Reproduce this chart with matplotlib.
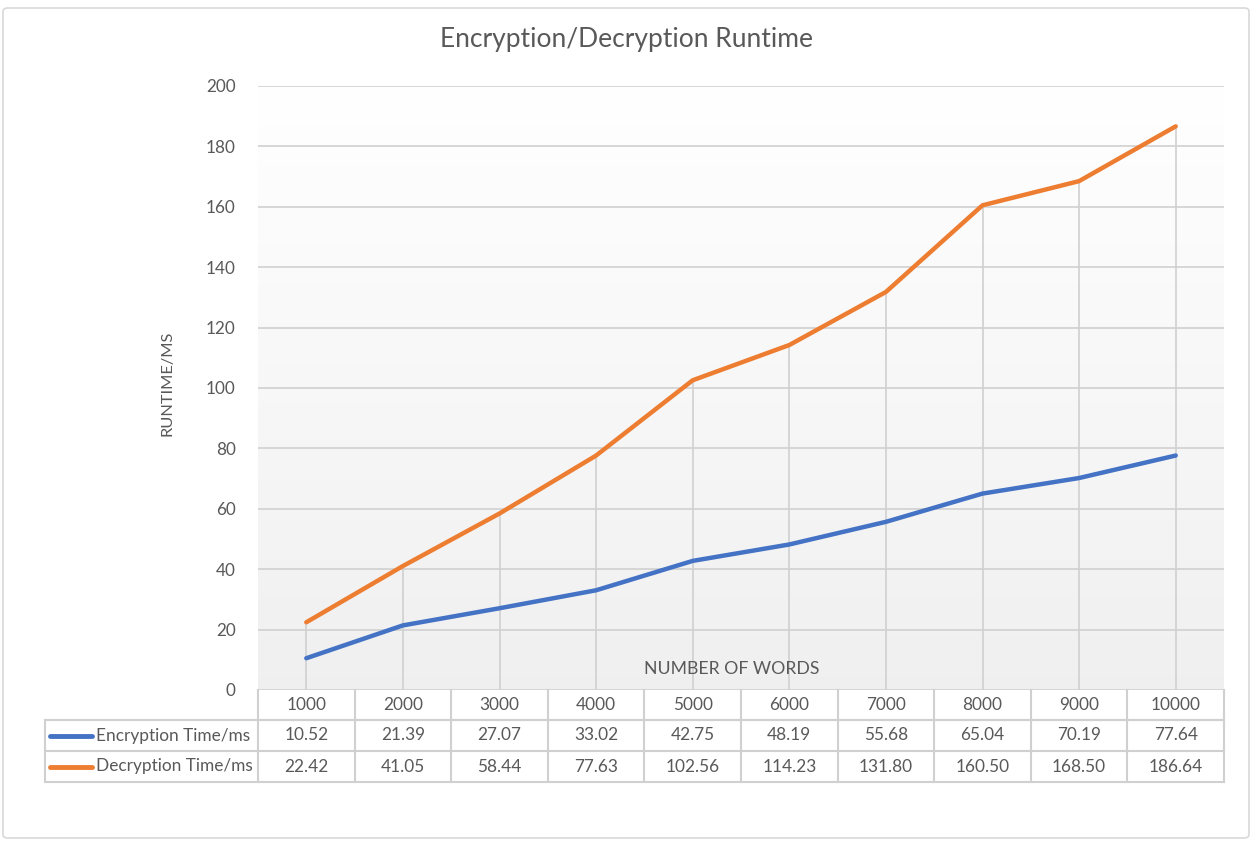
import numpy as np
import matplotlib
matplotlib.use("Agg")
import matplotlib.pyplot as plt
from matplotlib.patches import FancyBboxPatch
from matplotlib.lines import Line2D

categories = ["1000", "2000", "3000", "4000", "5000", "6000", "7000", "8000", "9000", "10000"]
series_names = ["Encryption Time/ms", "Decryption Time/ms"]
encryption = [10.52, 21.39, 27.07, 33.02, 42.75, 48.19, 55.68, 65.04, 70.19, 77.64]
decryption = [22.42, 41.05, 58.44, 77.63, 102.56, 114.23, 131.80, 160.50, 168.50, 186.64]
colors = ["#4472C4", "#ED7D31"]
yticks = [0, 20, 40, 60, 80, 100, 120, 140, 160, 180, 200]

plt.rcParams['font.family'] = ['Lato', 'DejaVu Sans']
TXT = "#595959"
GRID = "#D0D0D0"

W, H = 1252, 843
fig = plt.figure(figsize=(W / 100, H / 100), dpi=100)

def fx(px):
    return px / W

def fy(py):
    return 1 - py / H

# outer border
fig.patches.append(FancyBboxPatch((fx(3), fy(838)), fx(1246), 830 / H,
                                  boxstyle="round,pad=0,rounding_size=0.004",
                                  transform=fig.transFigure, fill=False,
                                  edgecolor="#D9D9D9", linewidth=1.2))

L, R, T, B = 258, 1224, 86, 690
ax = fig.add_axes([fx(L), fy(B), fx(R - L), (B - T) / H])
n = len(categories)
x = np.arange(n)
ax.set_xlim(-0.5, n - 0.5)
ax.set_ylim(0, 200)

# gradient background
grad = np.linspace(1.0, 0.0, 256).reshape(-1, 1)
top = np.array([1.0, 1.0, 1.0])
bot = np.array([0.94, 0.94, 0.94])
img = grad[..., None] * top + (1 - grad[..., None]) * bot
ax.imshow(img, extent=[-0.5, n - 0.5, 0, 200], aspect="auto", zorder=0, origin="upper")

for yv in yticks:
    ax.axhline(yv, color=GRID, lw=1.2, zorder=1)

# drop lines
hi = np.maximum(encryption, decryption)
ax.vlines(x, 0, hi, color=GRID, lw=1.2, zorder=1)

ax.plot(x, encryption, color=colors[0], lw=3.2, solid_capstyle="round", zorder=3)
ax.plot(x, decryption, color=colors[1], lw=3.2, solid_capstyle="round", zorder=3)

ax.set_yticks(yticks)
ax.set_yticklabels([str(v) for v in yticks], fontsize=12.3, color=TXT)
ax.tick_params(axis="y", length=0, pad=16)
ax.set_xticks([])
for s in ax.spines.values():
    s.set_visible(False)

ax.text(0.49, 0.035, "NUMBER OF WORDS", transform=ax.transAxes, ha="center",
        va="center", fontsize=12.7, color=TXT, zorder=4)

fig.text(fx(167), fy(383), "RUNTIME/MS", rotation=90, ha="center", va="center",
         fontsize=11.8, color=TXT)
fig.text(fx(627), fy(40), "Encryption/Decryption Runtime", ha="center", va="center",
         fontsize=19, color=TXT)

# data table
tcol = "#D0D0D0"
colw = (R - L) / n
rows_y = [690, 720, 751, 782]

def hline(x0, x1, y):
    fig.add_artist(Line2D([fx(x0), fx(x1)], [fy(y), fy(y)], color=tcol, lw=1.5,
                          transform=fig.transFigure))

def vline(xp, y0, y1):
    fig.add_artist(Line2D([fx(xp), fx(xp)], [fy(y0), fy(y1)], color=tcol, lw=1.5,
                          transform=fig.transFigure))

hline(L, R, 720)
hline(45, R, 720)
hline(45, R, 751)
hline(45, R, 782)
vline(45, 720, 782)
for i in range(n + 1):
    vline(L + i * colw, 690, 782)

for i, c in enumerate(categories):
    fig.text(fx(L + (i + 0.5) * colw), fy(705), c, ha="center", va="center",
             fontsize=12.4, color=TXT)

for r, (name, vals, col) in enumerate(zip(series_names, [encryption, decryption], colors)):
    yc = (rows_y[r + 1] + rows_y[r + 2]) / 2
    fig.add_artist(Line2D([fx(50), fx(92)], [fy(yc), fy(yc)], color=col, lw=3.5,
                          solid_capstyle="round", transform=fig.transFigure))
    fig.text(fx(96), fy(yc), name, ha="left", va="center", fontsize=12.4, color=TXT)
    for i, v in enumerate(vals):
        fig.text(fx(L + (i + 0.5) * colw), fy(yc), f"{v:.2f}", ha="center",
                 va="center", fontsize=12.4, color=TXT)

fig.savefig("out.png", dpi=100)
